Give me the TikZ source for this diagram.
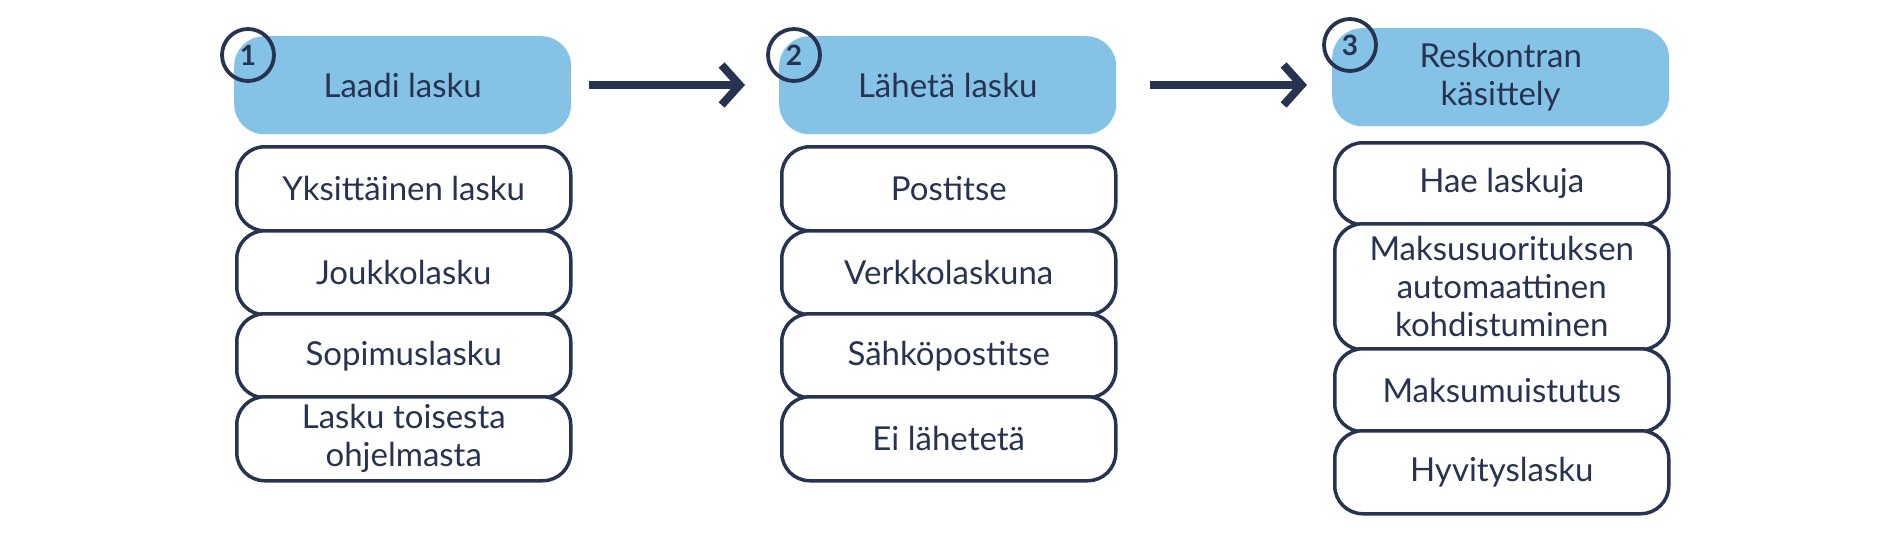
\documentclass[tikz,border=0pt]{standalone}
\usepackage{fontspec}
\setmainfont{Lato}
\usetikzlibrary{arrows.meta,positioning}
\definecolor{navy}{HTML}{273350}
\definecolor{skyblue}{HTML}{84C3E6}

\begin{document}
\begin{tikzpicture}[
x=1pt,y=-1pt,
font=\fontsize{33}{38}\selectfont,
header/.style={
	fill=skyblue,
	rounded corners=30pt,
	minimum width=337pt,
	text=navy,
	align=center,
	anchor=north west
},
item/.style={
	draw=navy,
	line width=3.5pt,
	fill=white,
	rounded corners=28pt,
	minimum width=334pt,
	text=navy,
	align=center,
	anchor=north west
},
badge/.style={
	draw=navy,
	line width=3.8pt,
	circle,
	minimum size=52pt,
	inner sep=0pt,
	text=navy,
	font=\fontsize{28}{28}\bfseries\selectfont
},
flow/.style={
	draw=navy,
	line width=8pt,
	-{Straight Barb[length=18pt,width=40pt,line width=8pt]}
}
]
\useasboundingbox (0,0) rectangle (1891,533);

% headers
\node[header,minimum height=98pt] (h1) at (234,36) {Laadi lasku};
\node[header,minimum height=98pt] (h2) at (779,36) {Lähetä lasku};
\node[header,minimum height=98pt] (h3) at (1332,28) {Reskontran\\käsittely};

% column 1
\foreach \y/\l [count=\i] in {145/Yksittäinen lasku,229/Joukkolasku,312/Sopimuslasku,395/{Lasku toisesta\\ohjelmasta}}
\node[item,minimum height=84pt] (a\i) at (235,\y) {\l};

% column 2
\foreach \y/\l [count=\i] in {145/Postitse,229/Verkkolaskuna,312/Sähköpostitse,395/Ei lähetetä}
\node[item,minimum height=84pt] (b\i) at (780,\y) {\l};

% column 3
\node[item,minimum height=82pt] (c1) at (1333,141) {Hae laskuja};
\node[item,minimum height=126pt] (c2) at (1333,222) {Maksusuorituksen\\automaattinen\\kohdistuminen};
\node[item,minimum height=83pt] (c3) at (1333,347) {Maksumuistutus};
\node[item,minimum height=83pt] (c4) at (1333,429) {Hyvityslasku};

% step numbers
\node[badge] (n1) at (248,55) {1};
\node[badge] (n2) at (794,55) {2};
\node[badge] (n3) at (1350,45) {3};

% arrows between steps
\coordinate (p1) at (589,85);
\coordinate (q1) at (745,85);
\coordinate (p2) at (1150,85);
\coordinate (q2) at (1307,85);
\draw[flow] (p1) -- (q1);
\draw[flow] (p2) -- (q2);
\end{tikzpicture}
\end{document}
